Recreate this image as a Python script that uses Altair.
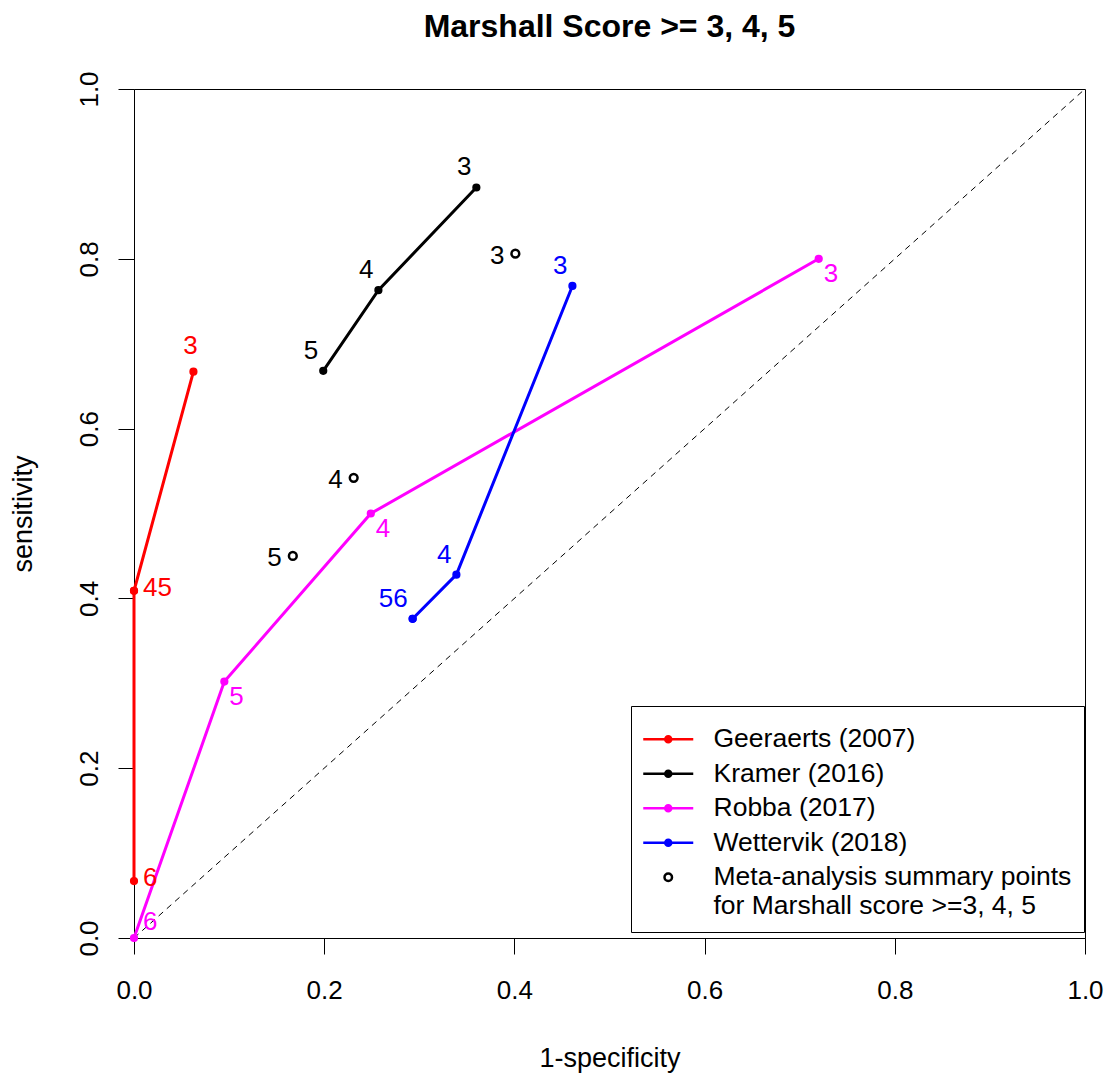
import altair as alt
import pandas as pd

# ---------------- data ----------------
study_names = ["Geeraerts (2007)", "Kramer (2016)", "Robba (2017)", "Wettervik (2018)"]
meta_name = "Meta-analysis summary points|for Marshall score >=3, 4, 5"
series_colors = ["#FF0000", "#000000", "#FF00FF", "#0000FF", "#000000"]

geeraerts_thr = [3, 4, 5, 6]
geeraerts_fpr = [0.0625, 0.0, 0.0, 0.0]
geeraerts_sens = [0.667, 0.409, 0.409, 0.067]
geeraerts_pos = ["above", "right", "right", "right"]

kramer_thr = [3, 4, 5]
kramer_fpr = [0.360, 0.257, 0.199]
kramer_sens = [0.884, 0.763, 0.668]
kramer_pos = ["upleft", "upleft", "upleft"]

robba_thr = [3, 4, 5, 6]
robba_fpr = [0.720, 0.249, 0.095, 0.0]
robba_sens = [0.800, 0.500, 0.302, 0.0]
robba_pos = ["downright", "downright", "downright", "upright"]

wettervik_thr = [3, 4, 5, 6]
wettervik_fpr = [0.461, 0.339, 0.293, 0.293]
wettervik_sens = [0.768, 0.428, 0.376, 0.376]
wettervik_pos = ["upleft", "upleft", "upleft", "upleft"]

meta_thr = [3, 4, 5]
meta_fpr = [0.401, 0.231, 0.167]
meta_sens = [0.806, 0.542, 0.450]
meta_pos = ["left", "left", "left"]

diag_x = [0.0, 1.0]
diag_y = [0.0, 1.0]

tick_values = [0.0, 0.2, 0.4, 0.6, 0.8, 1.0]

# ---------------- tables ----------------
series_data = [
    (study_names[0], geeraerts_thr, geeraerts_fpr, geeraerts_sens, geeraerts_pos, "study"),
    (study_names[1], kramer_thr, kramer_fpr, kramer_sens, kramer_pos, "study"),
    (study_names[2], robba_thr, robba_fpr, robba_sens, robba_pos, "study"),
    (study_names[3], wettervik_thr, wettervik_fpr, wettervik_sens, wettervik_pos, "study"),
    (meta_name, meta_thr, meta_fpr, meta_sens, meta_pos, "meta"),
]
rows = []
for name, thr, fpr, sens, pos, kind in series_data:
    for t, f, s, p in zip(thr, fpr, sens, pos):
        rows.append({"series": name, "thr": t, "fpr": f, "sens": s, "pos": p, "kind": kind})
df = pd.DataFrame(rows)

# labels: coincident points share one label ("45", "56")
lab_rows = []
for name, thr, fpr, sens, pos, kind in series_data:
    groups = {}
    order = []
    for t, f, s, p in zip(thr, fpr, sens, pos):
        key = (f, s)
        if key not in groups:
            groups[key] = {"series": name, "fpr": f, "sens": s, "pos": p, "label": ""}
            order.append(key)
        groups[key]["label"] += str(t)
    lab_rows.extend(groups[k] for k in order)
labels = pd.DataFrame(lab_rows)

diag = pd.DataFrame({"fpr": diag_x, "sens": diag_y})

all_series = study_names + [meta_name]
FONT = "Liberation Sans"

stroke_scale = alt.Scale(domain=all_series, range=series_colors)
fill_scale = alt.Scale(domain=all_series, range=series_colors[:4] + ["transparent"])
color_scale = alt.Scale(domain=all_series, range=series_colors)

line_dot = "M-5,0L5,0M-0.6,0A0.6,0.6,0,1,1,0.6,0A0.6,0.6,0,1,1,-0.6,0Z"
ring = "M-0.75,0A0.75,0.75,0,1,1,0.75,0A0.75,0.75,0,1,1,-0.75,0Z"
shape_scale = alt.Scale(domain=all_series, range=[line_dot] * 4 + [ring])

x_axis = alt.Axis(
    values=tick_values, format=".1f", grid=False,
    tickSize=16, tickColor="black", tickWidth=1,
    domainColor="black", domainWidth=1,
    labelFont=FONT, labelFontSize=26, labelColor="black",
    labelPadding=44, labelBaseline="alphabetic", labelFlush=False, labelOverlap=False,
    title="1-specificity", titleFont=FONT, titleFontSize=27, titleFontWeight="normal",
    titleColor="black", titleBaseline="alphabetic", titleY=128, titleX=475.5,
    titleAlign="center",
)
y_axis = alt.Axis(
    values=tick_values, format=".1f", grid=False,
    tickSize=16, tickColor="black", tickWidth=1,
    domainColor="black", domainWidth=1,
    labelFont=FONT, labelFontSize=26, labelColor="black",
    labelAngle=270, labelAlign="center", labelBaseline="alphabetic",
    labelPadding=21, labelFlush=False, labelOverlap=False,
    title="sensitivity", titleFont=FONT, titleFontSize=27, titleFontWeight="normal",
    titleColor="black", titleAngle=270, titleBaseline="alphabetic",
    titleX=-103, titleY=424.5, titleAlign="center",
)

X = alt.X("fpr:Q", scale=alt.Scale(domain=[0, 1], nice=False, zero=False), axis=x_axis)
Y = alt.Y("sens:Q", scale=alt.Scale(domain=[0, 1], nice=False, zero=False), axis=y_axis)

leg = alt.Legend(
    title=" ", titleFontSize=6, titlePadding=2,
    orient="none", legendX=497, legendY=617,
    padding=12, strokeColor="black", fillColor="white", cornerRadius=0,
    labelFont=FONT, labelFontSize=26.5, labelColor="black", labelLimit=600,
    labelOffset=32, labelExpr="split(datum.label, '|')",
    symbolSize=100, symbolStrokeWidth=2.5, symbolOffset=12, rowPadding=7.5,
)

base = alt.Chart(df)

diag_layer = alt.Chart(diag).mark_line(
    color="black", strokeWidth=1, strokeDash=[6, 5]
).encode(x=X, y=Y)

lines = base.transform_filter(alt.datum.kind == "study").mark_line(strokeWidth=3).encode(
    x=X, y=Y,
    stroke=alt.Stroke("series:N", scale=stroke_scale, legend=leg),
    detail="series:N",
    order=alt.Order("thr:Q"),
)

study_pts = base.transform_filter(alt.datum.kind == "study").mark_point(
    shape="circle", size=45, strokeWidth=1.5, opacity=1
).encode(
    x=X, y=Y,
    fill=alt.Fill("series:N", scale=fill_scale, legend=leg),
    stroke=alt.Stroke("series:N", scale=stroke_scale, legend=leg),
)

meta_pts = base.transform_filter(alt.datum.kind == "meta").mark_point(
    shape="circle", size=60, strokeWidth=2.5, opacity=1
).encode(
    x=X, y=Y,
    fill=alt.Fill("series:N", scale=fill_scale, legend=leg),
    stroke=alt.Stroke("series:N", scale=stroke_scale, legend=leg),
)

label_styles = {
    "above": dict(align="center", dx=-3, dy=-26),
    "right": dict(align="left", dx=9, dy=-3),
    "upleft": dict(align="right", dx=-5, dy=-20),
    "downright": dict(align="left", dx=5, dy=15),
    "upright": dict(align="left", dx=9, dy=-16),
    "left": dict(align="right", dx=-11, dy=2),
}
text_layers = []
for pos, st in label_styles.items():
    text_layers.append(
        alt.Chart(labels).transform_filter(alt.datum.pos == pos).mark_text(
            font=FONT, fontSize=26, baseline="middle", **st
        ).encode(
            x=X, y=Y, text="label:N",
            color=alt.Color("series:N", scale=color_scale, legend=None),
        )
    )

legend_layer = base.transform_filter("false").mark_point(opacity=1).encode(
    x=X, y=Y,
    fill=alt.Fill("series:N", scale=fill_scale, legend=leg),
    stroke=alt.Stroke("series:N", scale=stroke_scale, legend=leg),
    shape=alt.Shape("series:N", scale=shape_scale, legend=leg),
)

chart = alt.layer(
    diag_layer, lines, study_pts, meta_pts, *text_layers, legend_layer
).properties(
    width=951, height=849,
    background="white",
    title=alt.TitleParams(
        "Marshall Score >= 3, 4, 5", font=FONT, fontSize=32, fontWeight="bold",
        color="black", anchor="middle", offset=2, baseline="alphabetic",
    ),
    autosize=alt.AutoSizeParams(type="none"),
    padding={"left": 134, "top": 89, "right": 22, "bottom": 135},
).configure_view(stroke="black", strokeWidth=1)

chart.save("out.html", embed_options={"renderer": "svg", "actions": False})
